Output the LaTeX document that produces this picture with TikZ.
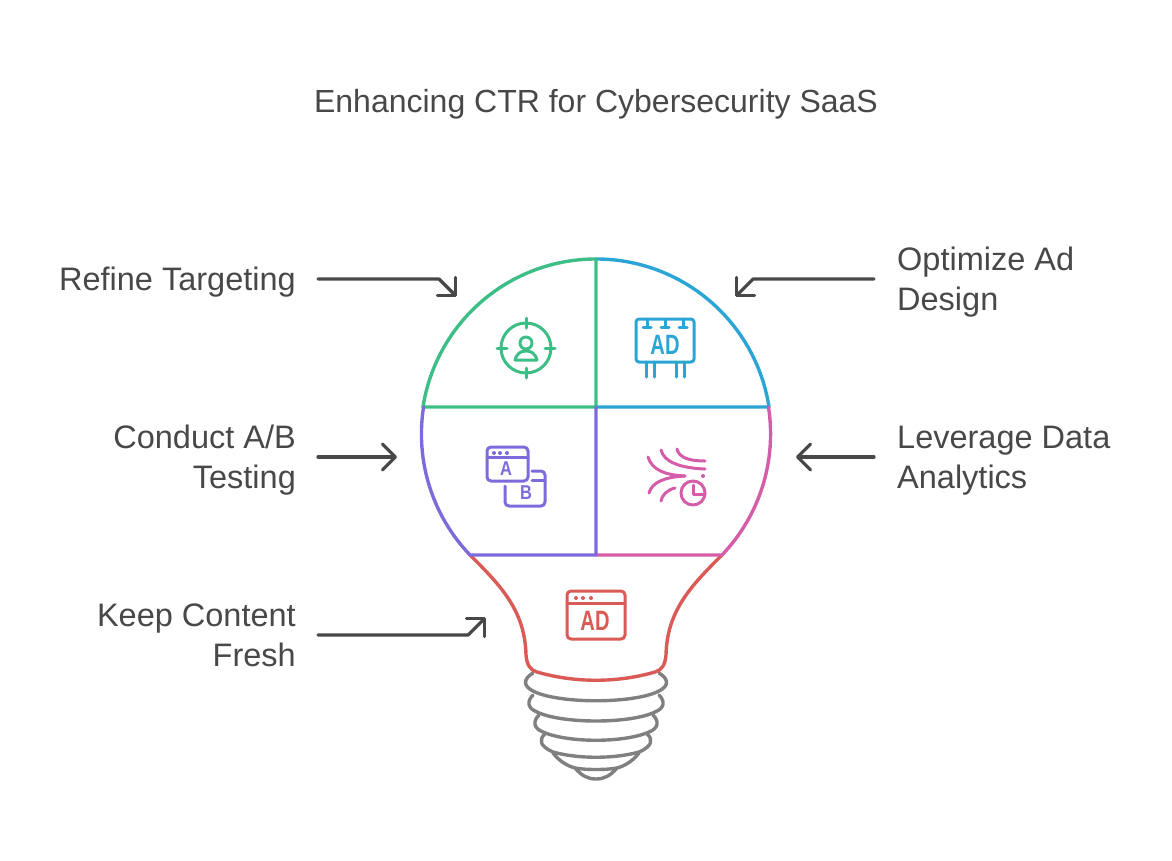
\documentclass[tikz,border=0pt]{standalone}
\usepackage{fontspec}
\setmainfont{Liberation Sans}
\usetikzlibrary{arrows.meta}
\definecolor{txtgray}{HTML}{484848}
\definecolor{basegray}{HTML}{808080}
\definecolor{leafgreen}{HTML}{3DBE86}
\definecolor{adblue}{HTML}{2BA5D5}
\definecolor{abpurple}{HTML}{7F6ADC}
\definecolor{datapink}{HTML}{D45CA8}
\definecolor{freshred}{HTML}{DA5A55}
\begin{document}
\begin{tikzpicture}[x=1pt, y=-1pt, line join=round, line cap=round,
	lbl/.style={text=txtgray, inner sep=0pt, font=\fontsize{32.5}{40}\selectfont},
	lblleft/.style={lbl, anchor=east, align=right},
	lblright/.style={lbl, anchor=west, align=left},
	pointer/.style={draw=txtgray, line width=3.2pt, -{Straight Barb[length=13pt, width=26pt, round]}},
	bulbline/.style={line width=3.4pt},
	iconline/.style={line width=3pt},
	adtext/.style={inner sep=0pt, xscale=0.72, font=\fontsize{28}{28}\bfseries\selectfont},
	abtext/.style={inner sep=0pt, xscale=0.82, font=\fontsize{20}{20}\bfseries\selectfont, text=abpurple}]
	\useasboundingbox (0,0) rectangle (1172,860);
	\node[lbl, font=\fontsize{32}{40}\selectfont] (title) at (596,104) {Enhancing CTR for Cybersecurity SaaS};

	%labels
	\node[lblleft] (refine) at (296,282) {Refine Targeting};
	\node[lblleft] (abtest) at (296,460) {Conduct A/B\\Testing};
	\node[lblleft] (fresh) at (296,635) {Keep Content\\Fresh};
	\node[lblright] (optimize) at (897,282) {Optimize Ad\\Design};
	\node[lblright] (leverage) at (897,461) {Leverage Data\\Analytics};

	%arrows
	\coordinate (refinetip) at (457,297);
	\coordinate (abtesttip) at (397,457);
	\coordinate (freshtip) at (486,617);
	\coordinate (optimizetip) at (735,297);
	\coordinate (leveragetip) at (796,457);
	\draw[pointer] ([xshift=22pt, yshift=3pt]refine.east) -- (439,279) -- (refinetip);
	\draw[pointer] ([xshift=22pt, yshift=3pt]abtest.east) -- (abtesttip);
	\draw[pointer] ([xshift=22pt]fresh.east) -- (468,635) -- (freshtip);
	\draw[pointer] ([xshift=-23pt, yshift=3pt]optimize.west) -- (753,279) -- (optimizetip);
	\draw[pointer] ([xshift=-23pt, yshift=4pt]leverage.west) -- (leveragetip);

	%screw base
	\foreach \tx/\ty/\ox/\oy/\bx/\by/\cy in {533/673/523/683/533/691/704, 533/695/527/705/537/712/724, 539/715/533/725/543/732/743, 545/734/539/743/553/752/759}{
		\draw[basegray, bulbline] (\tx,\ty) .. controls (\ox,\oy-4) and (\ox,\oy+3) .. (\bx,\by)
			.. controls (\bx+25,\cy) and (1192-\bx-25,\cy) .. (1192-\bx,\by)
			.. controls (1192-\ox,\oy+3) and (1192-\ox,\oy-4) .. (1192-\tx,\ty);
	}
	\draw[basegray, bulbline] (553,753) .. controls (560,762) and (568,766) .. (575,768)
		.. controls (585,770) and (607,770) .. (617,768)
		.. controls (624,766) and (632,762) .. (639,753);
	\draw[basegray, bulbline] (575,768) .. controls (582,776) and (588,779) .. (596,779)
		.. controls (604,779) and (610,776) .. (617,768);

	%neck
	\draw[freshred, bulbline] (470,555) .. controls (500,585) and (525,610) .. (526,655)
		.. controls (527,665) and (530,670) .. (537,672)
		.. controls (575,683) and (617,683) .. (655,672)
		.. controls (662,670) and (665,665) .. (666,655)
		.. controls (667,610) and (692,585) .. (722,555);

	%glass
	\draw[adblue, bulbline] (596,407) -- (769,407) arc (8.87:90:175pt);
	\draw[leafgreen, bulbline] (596,259) -- (596,407) -- (423,407) arc (171.13:90:175pt);
	\draw[datapink, bulbline] (596,555) -- (722,555) arc (-43.74:8.87:175pt);
	\draw[abpurple, bulbline] (596,407) -- (596,555) -- (470,555) arc (223.74:171.13:175pt);

	%target icon
	\draw[leafgreen, iconline] (526,348) circle (25pt);
	\draw[leafgreen, iconline] (526,318) -- (526,328) (526,368) -- (526,378) (497,348) -- (507,348) (545,348) -- (555,348);
	\draw[leafgreen, iconline] (526,343) circle (6pt);
	\draw[leafgreen, iconline] (515,360) .. controls (517,353) and (521,351) .. (526,351) .. controls (531,351) and (535,353) .. (537,360) -- cycle;

	%billboard icon
	\draw[adblue, iconline, rounded corners=3pt] (636,319) rectangle (694,362);
	\foreach \x in {647, 665, 683}{
		\draw[adblue, iconline] (\x,319) -- (\x,327) (\x-4,327) -- (\x+4,327);
	}
	\foreach \x in {646, 654, 676, 684}{
		\draw[adblue, iconline] (\x,362) -- (\x,377);
	}
	\node[adtext, text=adblue] (adboard) at (665,345) {AD};

	%a/b icon
	\draw[abpurple, iconline, rounded corners=4pt] (487,447) rectangle (528,481);
	\draw[abpurple, iconline] (487,457) -- (528,457);
	\foreach \x in {494, 500, 507}{
		\fill[abpurple] (\x,453) circle (2pt);
	}
	\draw[abpurple, iconline, rounded corners=4pt] (532,471) -- (545,471) -- (545,506) -- (505,506) -- (505,486);
	\draw[abpurple, iconline] (532,480) -- (545,480);
	\node[abtext] (lettera) at (506,469) {A};
	\node[abtext] (letterb) at (526,493) {B};

	%data icon
	\draw[datapink, iconline] (648,457) .. controls (652,470) and (665,475) .. (685,476);
	\draw[datapink, iconline] (685,476) .. controls (665,477) and (652,482) .. (649,493);
	\draw[datapink, iconline] (661,450) .. controls (664,462) and (680,468) .. (705,469);
	\draw[datapink, iconline] (677,449) .. controls (679,458) and (690,461) .. (705,461);
	\draw[datapink, iconline] (675,488) .. controls (667,490) and (662,495) .. (661,501);
	\fill[datapink] (703,476) circle (2pt);
	\draw[datapink, iconline] (693,493) circle (12pt);
	\draw[datapink, iconline] (693,485) -- (693,494) -- (705,494);

	%window icon
	\draw[freshred, iconline, rounded corners=4pt] (567,591) rectangle (625,639);
	\draw[freshred, iconline] (567,603) -- (625,603);
	\foreach \x in {576, 583, 591}{
		\fill[freshred] (\x,598) circle (2pt);
	}
	\node[adtext, text=freshred] (adwindow) at (595,621) {AD};
\end{tikzpicture}
\end{document}
